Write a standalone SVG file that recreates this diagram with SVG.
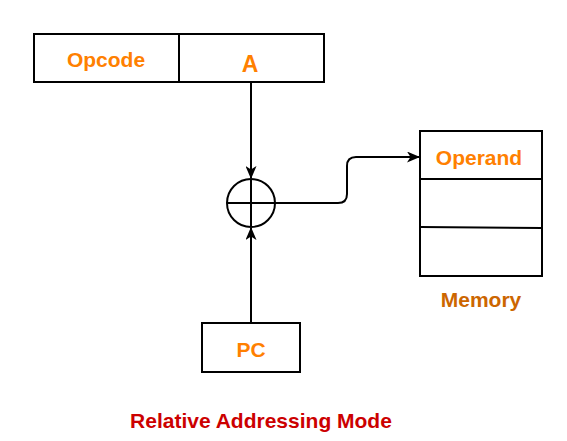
<svg xmlns="http://www.w3.org/2000/svg" width="567" height="441" viewBox="0 0 567 441">
<style>
.box{fill:#fff;stroke:#000;stroke-width:2}
.ln{fill:none;stroke:#000;stroke-width:2}
.t{font-family:"Liberation Sans",Arial,sans-serif;font-weight:bold;font-size:21px;text-anchor:middle;fill:#FF8000}
</style>
<defs>
<marker id="arr" viewBox="0 0 13 11" refX="12" refY="5.5" markerWidth="13" markerHeight="11" markerUnits="userSpaceOnUse" orient="auto">
<path d="M0,0 L13,5.5 L0,11 L3.5,5.5 Z" fill="#000"/>
</marker>
</defs>
<rect width="567" height="441" fill="#fff"/>
<g id="connectors">
<path class="ln" d="M251,82 V178" marker-end="url(#arr)"/>
<path class="ln" d="M251,323 V228" marker-end="url(#arr)"/>
<path class="ln" d="M275,203 H338 Q347,203 347,194 V166 Q347,157 356,157 H419" marker-end="url(#arr)"/>
</g>
<g id="instruction">
<rect class="box" x="34" y="34" width="290" height="48"/>
<line class="ln" x1="179" y1="34" x2="179" y2="82"/>
<text class="t" x="106" y="67">Opcode</text>
<text class="t" x="250" y="72" style="font-size:23px">A</text>
</g>
<g id="adder">
<circle class="ln" cx="251" cy="203" r="24"/>
<line class="ln" x1="227" y1="203" x2="275" y2="203"/>
<line class="ln" x1="251" y1="179" x2="251" y2="227"/>
</g>
<g id="memory">
<rect class="box" x="420" y="131" width="122" height="145"/>
<line class="ln" x1="420" y1="179" x2="542" y2="179"/>
<line class="ln" x1="420" y1="227" x2="542" y2="228"/>
<text class="t" x="479" y="165">Operand</text>
<text class="t" x="481" y="307" style="fill:#CC6600">Memory</text>
</g>
<g id="pc">
<rect class="box" x="202" y="323" width="98" height="49"/>
<text class="t" x="251" y="357">PC</text>
</g>
<text class="t" x="261" y="428" style="fill:#CC0000">Relative Addressing Mode</text>
</svg>
